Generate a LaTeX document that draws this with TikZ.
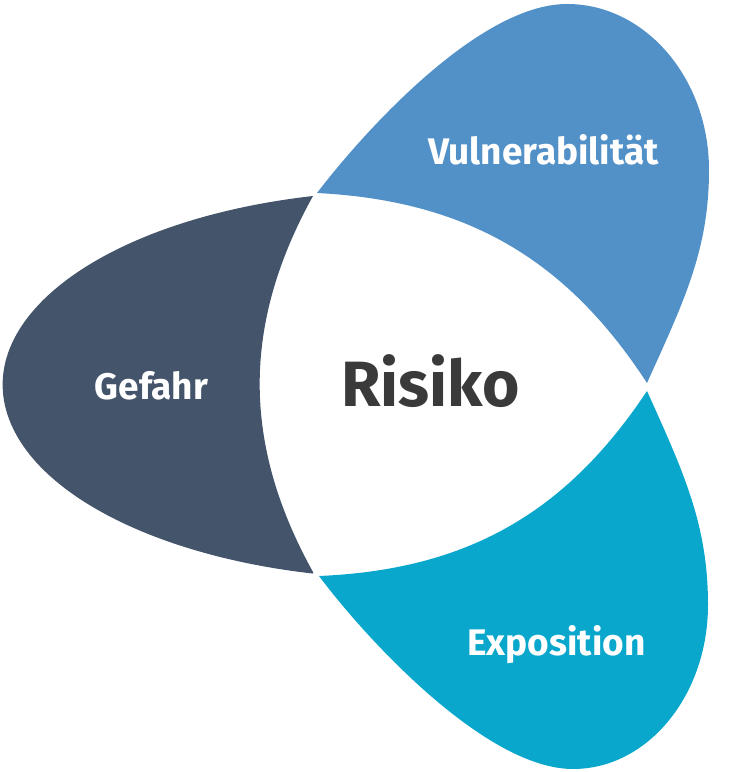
\documentclass[tikz,border=0pt]{standalone}
\usepackage{fontspec}
\setmainfont{Fira Sans}
\usetikzlibrary{positioning}
\definecolor{gefahrcol}{HTML}{44546A}
\definecolor{vulnercol}{HTML}{5291C8}
\definecolor{expocol}{HTML}{0AA7CD}
\definecolor{risikocol}{HTML}{3A3A3A}

\begin{document}
\begin{tikzpicture}[x=1pt, y=1pt,
    lbl/.style={anchor=base, text=white, font=\bfseries\fontsize{37}{42}\selectfont},
    centre/.style={anchor=base, text=risikocol, font=\bfseries\fontsize{64}{70}\selectfont}]
    \useasboundingbox (0,0) rectangle (730,772);

    % Gefahr
    \coordinate (gA) at (313,576);
    \coordinate (gB) at (313,200);
    \fill[gefahrcol] (gA) arc[start angle=103.3, end angle=256.7, x radius=403, y radius=194]
        -- (gB) to[bend left=29] (gA) -- cycle;

    % Vulnerabilitaet
    \coordinate (vA) at (317,579);
    \coordinate (vT) at (567,768);
    \coordinate (vR) at (709,602);
    \coordinate (vB) at (647,389);
    \fill[vulnercol] (vA) .. controls (366,643) and (480,768) .. (vT)
        .. controls (645,768) and (709,694) .. (vR)
        .. controls (709,522) and (684,471) .. (vB)
        to[bend right=27] (vA) -- cycle;

    % Exposition
    \coordinate (eA) at (319,196);
    \coordinate (eT) at (573,3);
    \coordinate (eR) at (708,167);
    \coordinate (eB) at (647,381);
    \fill[expocol] (eA) .. controls (367,132) and (486,3) .. (eT)
        .. controls (648,3) and (708,77) .. (eR)
        .. controls (708,247) and (684,299) .. (eB)
        to[bend left=27] (eA) -- cycle;

    \node[lbl]    (gefahr)    at (151.5,372.7) {Gefahr};
    \node[lbl]    (vulner)    at (543.5,607)   {Vulnerabilität};
    \node[lbl]    (expo)      at (556.5,116)   {Exposition};
    \node[centre] (risiko)    at (430.5,365)   {Risiko};
\end{tikzpicture}
\end{document}
